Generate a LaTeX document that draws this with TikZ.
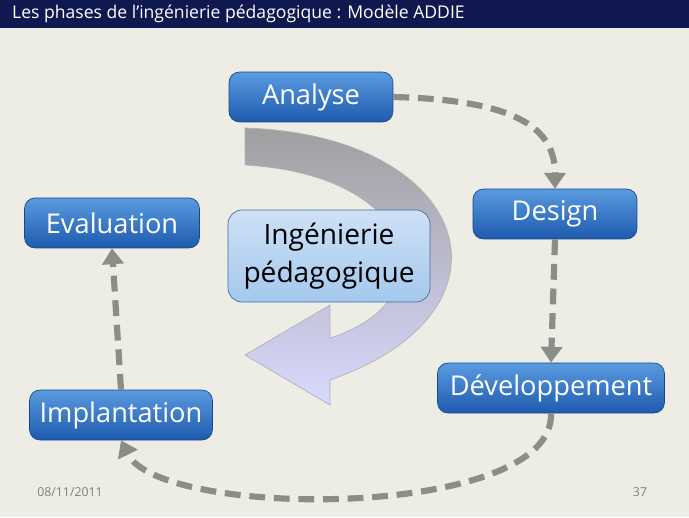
\documentclass[tikz,border=0pt]{standalone}
\usepackage{fontspec}
\setmainfont{Open Sans}
\usetikzlibrary{arrows.meta}
\definecolor{titlebg}{HTML}{101850}
\definecolor{slidebg}{HTML}{EDEDE6}
\definecolor{boxtop}{HTML}{5A9BE0}
\definecolor{boxbot}{HTML}{1E5AAE}
\definecolor{dashgray}{HTML}{8C8C88}
\tikzset{
  phase/.style={rounded corners=6pt,draw=boxbot!80!black,top color=boxtop,bottom color=boxbot,
    text=white,font=\fontsize{15.5}{19}\selectfont,minimum height=1.0cm,inner sep=0pt},
  center box/.style={rounded corners=8pt,draw=boxtop!70!black,top color=white!70!boxtop,bottom color=white!45!boxtop,
    text=black,font=\fontsize{16}{22}\selectfont,align=center,minimum width=4.04cm,minimum height=1.84cm},
  cycle arrow/.style={draw=dashgray,line width=3.5pt,dash pattern=on 9pt off 5pt,-{Triangle[length=9pt,width=12pt]}}
}
\begin{document}
\begin{tikzpicture}[x=0.02cm,y=-0.02cm]
  \useasboundingbox (0,0) rectangle (689,517);
  \fill[slidebg] (0,0) rectangle (689,517);
  \fill[titlebg] (0,0) rectangle (689,28);
  \node[anchor=west,text=white,font=\fontsize{10}{12}\selectfont] (title) at (6,14)
    {Les phases de l'ingénierie pédagogique : Modèle ADDIE};
  % big turning arrow
  \shade[top color=gray!75,bottom color=blue!15!white,draw=gray!60]
    (245,128) .. controls (470,135) and (530,310) .. (330,380)
    -- (330,405) -- (245,355) -- (330,305) -- (330,338)
    .. controls (450,300) and (420,175) .. (245,165) -- cycle;
  % phases
  \node[phase,minimum width=3.28cm] (analyse) at (311,97) {Analyse};
  \node[phase,minimum width=3.28cm] (design) at (555,214) {Design};
  \node[phase,minimum width=4.54cm] (dev) at (551,388) {Développement};
  \node[phase,minimum width=3.66cm] (impl) at (121,415) {Implantation};
  \node[phase,minimum width=3.5cm] (eval) at (112,223) {Evaluation};
  \node[center box] (inge) at (329,256) {Ingénierie\\pédagogique};
  % cycle
  \draw[cycle arrow] (analyse.east) .. controls (520,100) and (555,130) .. (design.north);
  \draw[cycle arrow] (design.south) -- (dev.north);
  \draw[cycle arrow] (dev.south) .. controls (555,520) and (160,520) .. (impl.south);
  \draw[cycle arrow] (impl.north) -- (eval.south);
  % footer
  \node[text=gray,font=\fontsize{7}{8}\selectfont] (date) at (70,492) {08/11/2011};
  \node[text=gray,font=\fontsize{7}{8}\selectfont] (page) at (640,492) {37};
\end{tikzpicture}
\end{document}
